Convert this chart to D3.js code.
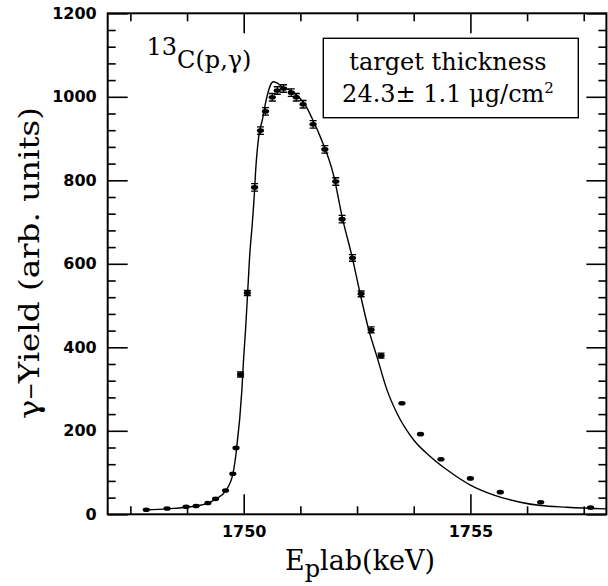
<!DOCTYPE html>
<html>
<head>
<meta charset="utf-8">
<script src="https://cdn.jsdelivr.net/npm/d3@7"></script>
<style>
  body { margin: 0; background: #fff; }
  svg { display: block; }
</style>
</head>
<body>
<svg id="chart" width="608" height="586"></svg>
<script>
// THE DATA
// measured yield points (energy in keV, yield in arb. units)
const energy = [1747.85, 1748.31, 1748.73, 1748.95, 1749.21, 1749.38, 1749.60, 1749.76, 1749.83, 1749.93,
  1750.08, 1750.24, 1750.37, 1750.48, 1750.63, 1750.74, 1750.88, 1751.05, 1751.16, 1751.31,
  1751.53, 1751.79, 1752.03, 1752.17, 1752.40, 1752.59, 1752.81, 1753.03, 1753.49, 1753.90,
  1754.35, 1755.00, 1755.66, 1756.55, 1757.65];
const yieldVal = [11, 14, 18, 20, 27, 37, 57, 97, 159, 335,
  530, 783, 919, 965, 999, 1015, 1020, 1010, 999, 982,
  934, 874, 797, 707, 614, 528, 442, 380, 266, 192,
  132, 86, 53, 29, 16];
const yieldErr = [2, 2, 2, 2, 2, 2, 3, 3, 4, 6,
  6, 9, 9, 9, 9, 9, 9, 9, 9, 9,
  9, 9, 9, 9, 8, 7, 7, 6, 3, 3,
  2, 2, 2, 2, 2];

// fitted curve
const fitEnergy = [1747.85, 1748.31, 1748.73, 1748.95, 1749.21, 1749.38, 1749.60, 1749.76, 1749.84, 1749.96,
  1750.00, 1750.04, 1750.09, 1750.13, 1750.19, 1750.24, 1750.26, 1750.33, 1750.41, 1750.48,
  1750.53, 1750.59, 1750.65, 1750.72, 1750.85, 1751.03, 1751.21, 1751.36, 1751.51, 1751.69,
  1751.99, 1752.17, 1752.39, 1752.57, 1752.76, 1752.94, 1753.16, 1753.38, 1753.75, 1754.12,
  1754.49, 1755.00, 1755.52, 1756.10, 1756.55, 1757.13, 1758.00];
const fitYield = [11, 13, 17, 20, 27, 36, 56, 96, 154, 298,
  377, 441, 537, 617, 697, 777, 817, 904, 944, 984,
  1008, 1028, 1036, 1034, 1024, 1015, 1000, 980, 948, 904,
  809, 713, 617, 528, 441, 377, 298, 242, 178, 138,
  106, 70, 46, 29, 21, 17, 13];

const xMajor = [1750, 1755];
const xMinor = [1747.5, 1748.75, 1751.25, 1752.5, 1753.75, 1756.25, 1757.5];
const yMajor = [0, 200, 400, 600, 800, 1000, 1200];
const yMinor = d3.range(40, 1200, 40).filter(v => v % 200 !== 0);

// SETTING UP
const svg = d3.select("#chart");
const plotL = 107.7, plotR = 606.4, plotT = 13.3, plotB = 514.3;

const x = d3.scaleLinear().domain([1747, 1758]).range([plotL, plotR]);
const y = d3.scaleLinear().domain([0, 1200]).range([plotB, plotT]);

const tickFont = "'DejaVu Sans', sans-serif";
const serif = "'DejaVu Serif', serif";

// ticks on all four sides, pointing inward
function styleAxis(g) {
  g.select(".domain").remove();
  g.selectAll("line").attr("stroke", "#000").attr("stroke-width", 1.6);
  g.selectAll("text").attr("fill", "#000").style("font-family", tickFont)
    .style("font-size", "16px").style("font-weight", "bold");
}

svg.append("g").attr("transform", `translate(0,${plotB})`)
  .call(d3.axisBottom(x).tickValues(xMajor).tickSizeInner(-20).tickPadding(11).tickFormat(d3.format("d")))
  .call(styleAxis);
svg.append("g").attr("transform", `translate(0,${plotB})`)
  .call(d3.axisBottom(x).tickValues(xMinor).tickSizeInner(-8).tickFormat(""))
  .call(styleAxis);
svg.append("g").attr("transform", `translate(0,${plotT})`)
  .call(d3.axisTop(x).tickValues(xMajor).tickSizeInner(-20).tickFormat(""))
  .call(styleAxis);
svg.append("g").attr("transform", `translate(0,${plotT})`)
  .call(d3.axisTop(x).tickValues(xMinor).tickSizeInner(-8).tickFormat(""))
  .call(styleAxis);

svg.append("g").attr("transform", `translate(${plotL},0)`)
  .call(d3.axisLeft(y).tickValues(yMajor).tickSizeInner(-20).tickPadding(11).tickFormat(d3.format("d")))
  .call(styleAxis);
svg.append("g").attr("transform", `translate(${plotL},0)`)
  .call(d3.axisLeft(y).tickValues(yMinor).tickSizeInner(-8).tickFormat(""))
  .call(styleAxis);
svg.append("g").attr("transform", `translate(${plotR},0)`)
  .call(d3.axisRight(y).tickValues(yMajor).tickSizeInner(-20).tickFormat(""))
  .call(styleAxis);
svg.append("g").attr("transform", `translate(${plotR},0)`)
  .call(d3.axisRight(y).tickValues(yMinor).tickSizeInner(-8).tickFormat(""))
  .call(styleAxis);

// frame
svg.append("rect")
  .attr("x", plotL).attr("y", plotT)
  .attr("width", plotR - plotL).attr("height", plotB - plotT)
  .attr("fill", "none").attr("stroke", "#000").attr("stroke-width", 2);

// fit line
const fit = fitEnergy.map((e, i) => [e, fitYield[i]]);
svg.append("path")
  .datum(fit)
  .attr("d", d3.line().x(d => x(d[0])).y(d => y(d[1])).curve(d3.curveMonotoneX))
  .attr("fill", "none")
  .attr("stroke", "#000")
  .attr("stroke-width", 1.4);

// data points with error bars
const pts = energy.map((e, i) => ({e: e, v: yieldVal[i], err: yieldErr[i]}));
const pg = svg.append("g");
pg.selectAll("line.err")
  .data(pts)
  .join("line")
  .attr("class", "err")
  .attr("x1", d => x(d.e)).attr("x2", d => x(d.e))
  .attr("y1", d => y(d.v - d.err)).attr("y2", d => y(d.v + d.err))
  .attr("stroke", "#000").attr("stroke-width", 1.2);
pg.selectAll("path.cap")
  .data(pts.filter(d => d.err >= 6))
  .join("path")
  .attr("class", "cap")
  .attr("d", d => `M${x(d.e) - 3.5},${y(d.v + d.err)}h7M${x(d.e) - 3.5},${y(d.v - d.err)}h7`)
  .attr("stroke", "#000").attr("stroke-width", 1.4);
pg.selectAll("ellipse")
  .data(pts)
  .join("ellipse")
  .attr("cx", d => x(d.e)).attr("cy", d => y(d.v))
  .attr("rx", 3.6).attr("ry", 2.3)
  .attr("fill", "#000");

// TEXTS
// reaction label
const title = svg.append("text")
  .attr("x", 146.5).attr("y", 68)
  .style("font-family", serif).style("font-size", "24px");
title.append("tspan").attr("dy", -13).text("13");
title.append("tspan").attr("dy", 13).text("C(p,γ)");

// target box
svg.append("rect")
  .attr("x", 323.3).attr("y", 38.3)
  .attr("width", 255).attr("height", 79.4)
  .attr("fill", "#fff").attr("stroke", "#000").attr("stroke-width", 1.4);
svg.append("text")
  .attr("x", 448).attr("y", 70)
  .attr("text-anchor", "middle")
  .style("font-family", serif).style("font-size", "24px")
  .text("target thickness");
const thick = svg.append("text")
  .attr("x", 448).attr("y", 101.5)
  .attr("text-anchor", "middle")
  .style("font-family", serif).style("font-size", "24px");
thick.append("tspan").text("24.3± 1.1 μg/cm");
thick.append("tspan").attr("dy", -9).style("font-size", "15px").text("2");

// axis titles
const xl = svg.append("text")
  .attr("x", 285).attr("y", 570)
  .style("font-family", serif).style("font-size", "27px");
xl.append("tspan").text("E");
xl.append("tspan").attr("dy", 7).style("font-size", "24px").text("p");
xl.append("tspan").attr("dy", -7).text("lab(keV)");

svg.append("text")
  .attr("transform", "translate(39,263) rotate(-90)")
  .attr("text-anchor", "middle")
  .attr("textLength", 312)
  .attr("lengthAdjust", "spacingAndGlyphs")
  .style("font-family", serif).style("font-size", "27px")
  .text("γ–Yield (arb. units)");
</script>
</body>
</html>
